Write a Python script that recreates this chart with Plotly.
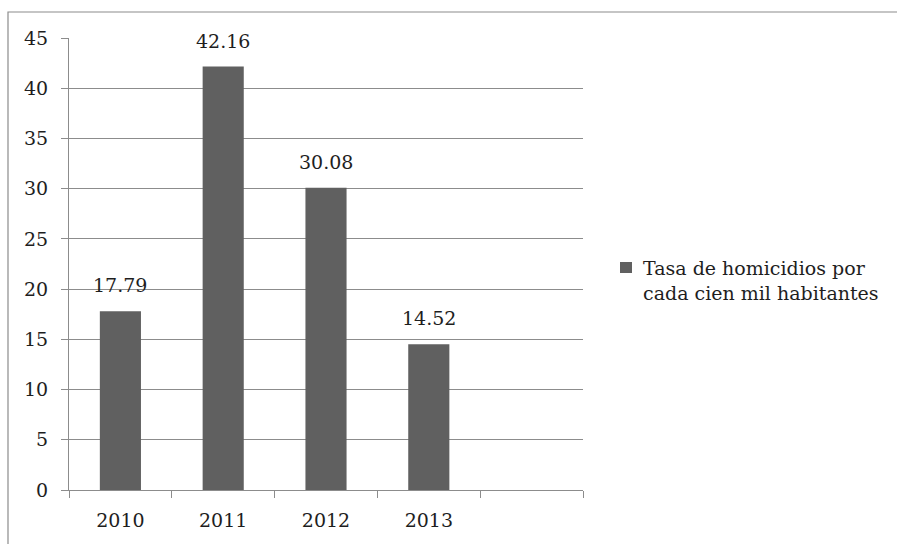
import plotly.graph_objects as go

# Homicide rate per 100,000 inhabitants
years = ["2010", "2011", "2012", "2013", " "]
rates = [17.79, 42.16, 30.08, 14.52, None]
series_name = "Tasa de homicidios por<br>cada cien mil habitantes"
y_ticks = [0, 5, 10, 15, 20, 25, 30, 35, 40, 45]

FONT = "DejaVu Serif"
BAR = "#606060"
GRID = "#8c8c8c"
TXT = "#1e1e1e"

W, H = 897, 544
L, R, T, B = 69, 314, 38, 54
pw, ph = W - L - R, H - T - B


def px_x(x):
    return (x - L) / pw


def px_y(y):
    return (H - B - y) / ph


fig = go.Figure()
fig.add_trace(go.Bar(
    x=years, y=rates, marker=dict(color=BAR, line=dict(width=0)),
    showlegend=False, hoverinfo="x+y",
))

# value labels above each bar (x given as category index)
for i, v in enumerate(rates):
    if v is None:
        continue
    fig.add_annotation(
        x=i, y=v, text=f"{v:.2f}", showarrow=False, yanchor="middle",
        yshift=26, font=dict(family=FONT, size=19, color=TXT),
    )

# legend: swatch + label
fig.add_shape(type="rect", xref="paper", yref="paper",
              x0=px_x(620), x1=px_x(632), y0=px_y(273), y1=px_y(262),
              fillcolor=BAR, line=dict(width=0))
fig.add_annotation(
    xref="paper", yref="paper", x=px_x(641), y=px_y(280),
    xanchor="left", yanchor="middle", align="left", showarrow=False,
    text=series_name, font=dict(family=FONT, size=19, color=TXT),
)

# chart frame
fig.add_shape(type="rect", xref="paper", yref="paper",
              x0=px_x(8), x1=px_x(W + 20), y0=px_y(H + 20), y1=px_y(12),
              line=dict(color=GRID, width=1.2), fillcolor="rgba(0,0,0,0)",
              layer="below")

fig.update_layout(
    width=W, height=H,
    margin=dict(l=L, r=R, t=T, b=B, pad=0),
    paper_bgcolor="white", plot_bgcolor="white",
    bargap=0.6,
    font=dict(family=FONT, size=19, color=TXT),
    xaxis=dict(
        type="category", categoryorder="array", categoryarray=years,
        range=[-0.5, len(years) - 0.5],
        tickson="boundaries", ticks="outside", ticklen=7, tickcolor=GRID,
        tickwidth=1.2, showline=True, linecolor=GRID, linewidth=1.2,
        showgrid=False, ticklabelstandoff=13, fixedrange=True, tickangle=0,
        tickfont=dict(family=FONT, size=19, color=TXT),
    ),
    yaxis=dict(
        range=[0, 45], tickvals=y_ticks, ticks="outside", ticklen=7,
        tickcolor=GRID, tickwidth=1.2, showline=True, linecolor=GRID,
        linewidth=1.2, showgrid=True, gridcolor=GRID, gridwidth=1.2,
        zeroline=False, ticklabelstandoff=9, fixedrange=True,
        tickfont=dict(family=FONT, size=19, color=TXT),
    ),
)

fig.write_html("out.html")
